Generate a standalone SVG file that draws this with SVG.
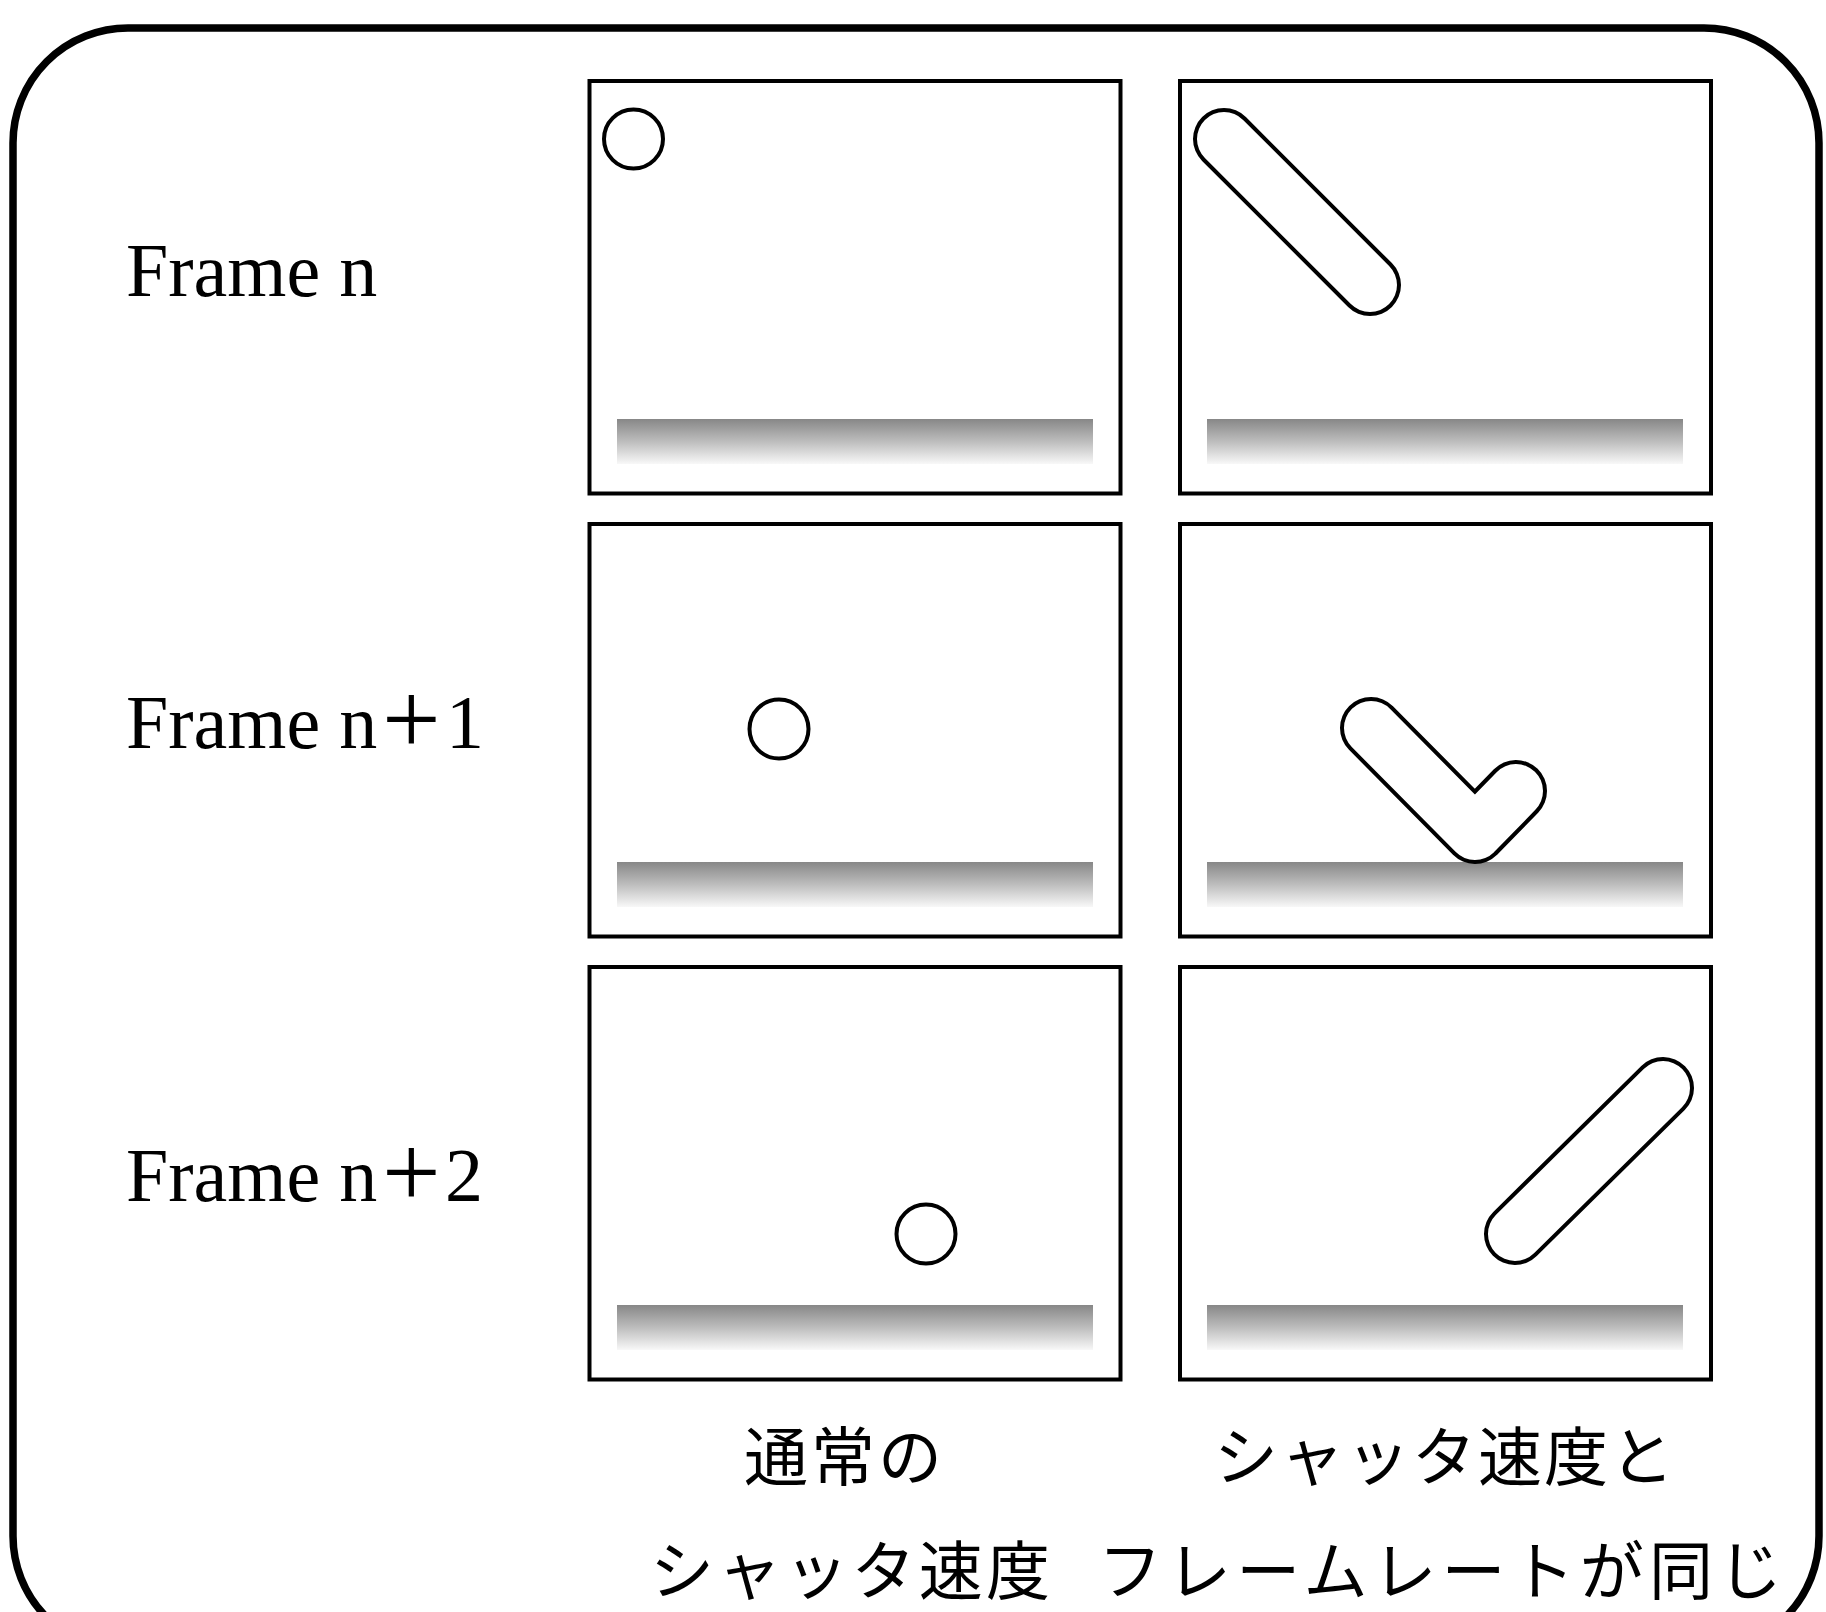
<svg xmlns="http://www.w3.org/2000/svg" width="1826" height="1612" viewBox="0 0 1826 1612">
  <style>
    .frame { fill: #ffffff; stroke: #000000; stroke-width: 4; }
    .floor { fill: url(#floorShade); }
    .ball { fill: #ffffff; stroke: #000000; stroke-width: 4; }
    .blurOuter { fill: none; stroke: #000000; stroke-width: 62; stroke-linecap: round; stroke-linejoin: round; }
    .blurInner { fill: none; stroke: #ffffff; stroke-width: 54; stroke-linecap: round; stroke-linejoin: round; }
    .rowLabel { font-family: "Liberation Serif", "Times New Roman", serif; font-size: 76px; fill: #000000; }
    .plus { font-size: 104px; }
    .caption { font-family: "Noto Sans CJK JP", "Noto Sans CJK SC", sans-serif; font-size: 64px; fill: #000000; }
  </style>
  <defs>
    <linearGradient id="floorShade" x1="0" y1="0" x2="0" y2="1">
      <stop offset="0" stop-color="#878787"/>
      <stop offset="0.5" stop-color="#bdbdbd"/>
      <stop offset="1" stop-color="#f8f8f8"/>
    </linearGradient>
  </defs>

  <rect width="1826" height="1612" fill="#ffffff"/>

  <!-- outer rounded border -->
  <rect id="border" x="13" y="28" width="1806" height="1623" rx="115" ry="115" fill="none" stroke="#000000" stroke-width="7.5"/>

  <!-- row labels -->
  <g id="label-frame-n">
    <text class="rowLabel" x="126" y="296">Frame n</text>
  </g>
  <g id="label-frame-n1">
    <text class="rowLabel" x="126" y="748">Frame n<tspan class="plus" x="382" y="754">+</tspan><tspan x="446" y="748">1</tspan></text>
  </g>
  <g id="label-frame-n2">
    <text class="rowLabel" x="126" y="1201">Frame n<tspan class="plus" x="382" y="1207">+</tspan><tspan x="445" y="1201">2</tspan></text>
  </g>

  <!-- column 1: normal shutter speed -->
  <g id="normal-n">
    <rect class="frame" x="589.5" y="81" width="531" height="412.5"/>
    <rect class="floor" x="617" y="419" width="476" height="45"/>
    <circle class="ball" cx="633.5" cy="139" r="29.5"/>
  </g>
  <g id="normal-n1">
    <rect class="frame" x="589.5" y="524" width="531" height="412.5"/>
    <rect class="floor" x="617" y="862" width="476" height="45"/>
    <circle class="ball" cx="779" cy="729" r="29.5"/>
  </g>
  <g id="normal-n2">
    <rect class="frame" x="589.5" y="967" width="531" height="412.5"/>
    <rect class="floor" x="617" y="1305" width="476" height="45"/>
    <circle class="ball" cx="926" cy="1234" r="29.5"/>
  </g>

  <!-- column 2: shutter speed equal to frame rate (motion blur) -->
  <g id="blur-n">
    <rect class="frame" x="1180" y="81" width="531" height="412.5"/>
    <rect class="floor" x="1207" y="419" width="476" height="45"/>
    <path class="blurOuter" d="M1224 139 L1370 285"/>
    <path class="blurInner" d="M1224 139 L1370 285"/>
  </g>
  <g id="blur-n1">
    <rect class="frame" x="1180" y="524" width="531" height="412.5"/>
    <rect class="floor" x="1207" y="862" width="476" height="45"/>
    <path class="blurOuter" d="M1371 728 L1475 833 L1516 791"/>
    <path class="blurInner" d="M1371 728 L1475 833 L1516 791"/>
  </g>
  <g id="blur-n2">
    <rect class="frame" x="1180" y="967" width="531" height="412.5"/>
    <rect class="floor" x="1207" y="1305" width="476" height="45"/>
    <path class="blurOuter" d="M1663 1088 L1515 1234"/>
    <path class="blurInner" d="M1663 1088 L1515 1234"/>
  </g>

  <!-- column captions -->
  <g id="caption-normal">
    <text class="caption" x="744" y="1480" textLength="198" lengthAdjust="spacing">通常の</text>
    <text class="caption" x="650" y="1594" textLength="400" lengthAdjust="spacing">シャッタ速度</text>
  </g>
  <g id="caption-blur">
    <text class="caption" x="1214" y="1480" textLength="460" lengthAdjust="spacing">シャッタ速度と</text>
    <text class="caption" x="1098" y="1594" textLength="684" lengthAdjust="spacing">フレームレートが同じ</text>
  </g>
</svg>
